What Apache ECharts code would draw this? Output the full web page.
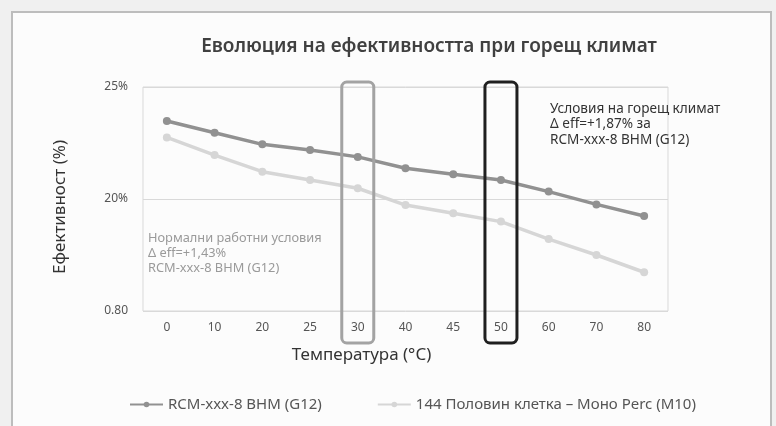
<!DOCTYPE html>
<html><head><meta charset="utf-8">
<script src="https://cdn.jsdelivr.net/npm/echarts@6/dist/echarts.min.js"></script>
<style>html,body{margin:0;padding:0;background:#f0f0f0}#c{width:776px;height:426px}</style>
</head><body><div id="c"></div>
<script>
const categories = ['0','10','20','25','30','40','45','50','60','70','80'];
const seriesNames = ['RCM-xxx-8 BHM (G12)', '144 Половин клетка – Моно Perc (M10)'];
const rcmValues = [23.48, 22.96, 22.44, 22.19, 21.88, 21.37, 21.10, 20.85, 20.33, 19.76, 19.24];
const monoValues = [22.75, 21.96, 21.22, 20.85, 20.48, 19.73, 19.36, 18.99, 18.21, 17.50, 16.73];
const yTickValues = [15, 20, 25];
const yTickLabels = ['0.80', '20%', '25%'];
const highlightCats = ['30', '50'];
const titleText = 'Еволюция на ефективността при горещ климат';
const noteNormal = 'Нормални работни условия\nΔ eff=+1,43%\nRCM-xxx-8 BHM (G12)';
const noteHot = 'Условия на горещ климат\nΔ eff=+1,87% за\nRCM-xxx-8 BHM (G12)';

const FONT = '"Noto Sans", sans-serif';
const chart = echarts.init(document.getElementById('c'), null, {renderer: 'canvas'});
const option = {
  backgroundColor: '#f0f0f0',
  animation: false,
  textStyle: {fontFamily: FONT},
  title: {text: titleText, left: 424, textAlign: 'center', top: 32,
    textStyle: {fontFamily: FONT, fontSize: 19, fontWeight: 600, color: '#404040'}},
  grid: {left: 143, right: 108, top: 87, bottom: 115, show: true, borderColor: '#d9d9d9', borderWidth: 1, backgroundColor: 'transparent'},
  legend: {left: 124, top: 392, itemWidth: 33, itemHeight: 7, itemGap: 55,
    textStyle: {fontFamily: FONT, fontSize: 15, color: '#555'}, data: seriesNames},
  xAxis: {type: 'category', data: categories, boundaryGap: true,
    name: 'Температура (°C)', nameLocation: 'middle', nameGap: 36,
    nameTextStyle: {fontFamily: FONT, fontSize: 17, color: '#333', padding: [0, 88, 0, 0]},
    axisLine: {show: false}, axisTick: {show: false},
    axisLabel: {fontFamily: FONT, fontSize: 12, color: '#555', margin: 11}},
  yAxis: {type: 'value', min: 15, max: 25, interval: 5,
    name: 'Ефективност (%)', nameLocation: 'middle', nameGap: 74,
    nameTextStyle: {fontFamily: FONT, fontSize: 17, color: '#333', padding: [0, 0, 0, -16]},
    axisLine: {show: false}, axisTick: {show: false},
    splitLine: {lineStyle: {color: '#d9d9d9'}},
    axisLabel: {fontFamily: FONT, fontSize: 12, color: '#555', margin: 15,
      formatter: v => yTickLabels[yTickValues.indexOf(v)] ?? ''}},
  series: [
    {name: seriesNames[0], type: 'line', data: rcmValues, symbol: 'circle', symbolSize: 8,
      itemStyle: {color: '#919191'}, lineStyle: {color: '#919191', width: 3.5}, z: 3},
    {name: seriesNames[1], type: 'line', data: monoValues, symbol: 'circle', symbolSize: 8,
      itemStyle: {color: '#d6d6d6'}, lineStyle: {color: '#d6d6d6', width: 3.5}, z: 2}
  ]
};
chart.setOption(option);

const boxColors = ['#a3a3a3', '#1f1f1f'];
const graphics = [
  {type: 'rect', z: -10, silent: true, shape: {x: 12, y: 12, width: 759, height: 430},
    style: {fill: '#fcfcfc', stroke: '#bdbdbd', lineWidth: 2}},
  {type: 'text', left: 148, top: 231, silent: true,
    style: {text: noteNormal, fontFamily: FONT, fontSize: 12.8, lineHeight: 15, fill: '#9a9a9a'}},
  {type: 'text', left: 550, top: 101, silent: true,
    style: {text: noteHot, fontFamily: FONT, fontSize: 13.6, lineHeight: 15.5, fill: '#333'}}
];
const topPx = 82, botPx = 343;
highlightCats.forEach((c, i) => {
  const px = chart.convertToPixel({xAxisIndex: 0}, c);
  graphics.push({type: 'rect', silent: true, z: 10,
    shape: {x: px - 16, y: topPx, width: 32, height: botPx - topPx, r: 5},
    style: {fill: 'none', stroke: boxColors[i], lineWidth: 3}});
});
chart.setOption({graphic: graphics});
</script></body></html>
